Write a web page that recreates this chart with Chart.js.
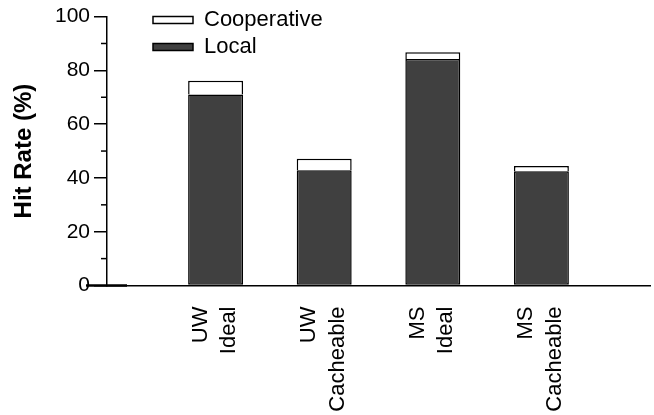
<!DOCTYPE html>
<html><head><meta charset="utf-8">
<script src="https://cdn.jsdelivr.net/npm/chart.js@4"></script>
<style>html,body{margin:0;padding:0;background:#fff;} #wrap{width:654px;height:415px;position:relative;}</style>
</head><body><div id="wrap"><canvas id="c"></canvas></div>
<script>
const categories = [["UW","Ideal"],["UW","Cacheable"],["MS","Ideal"],["MS","Cacheable"]];
const localValues = [71.0, 42.9, 84.2, 42.5];
const cooperativeValues = [5.1, 4.2, 2.5, 1.9];
const seriesNames = ["Local", "Cooperative"];
const yTicks = [0, 20, 40, 60, 80, 100];
const yMinorTicks = [10, 30, 50, 70, 90];
const yTitle = "Hit Rate (%)";

const FONT = "'Liberation Sans', Arial, Helvetica, sans-serif";
Chart.defaults.font.family = FONT;
Chart.defaults.color = '#000';

const labels = [""].concat(categories, [""]);
const pad = arr => [null].concat(arr, [null]);

const decor = {
  id: 'decor',
  afterLayout(chart) {
    const lg = chart.legend;
    if (lg) {
      const w = lg.width;
      lg.left = 148; lg.right = 148 + w + 40;
      lg.top = 4; lg.bottom = chart.chartArea.bottom;
    }
  },
  afterDraw(chart) {
    const ctx = chart.ctx, xs = chart.scales.x, ys = chart.scales.y;
    ctx.save();
    ctx.strokeStyle = '#000';
    ctx.lineWidth = 1.5;
    const x0 = chart.chartArea.left;
    yMinorTicks.forEach(v => {
      const py = ys.getPixelForValue(v);
      ctx.beginPath(); ctx.moveTo(x0 - 6, py); ctx.lineTo(x0, py); ctx.stroke();
    });
    const base = ys.getPixelForValue(0);
    const p0 = xs.getPixelForValue(0);
    ctx.lineWidth = 2.5;
    ctx.beginPath(); ctx.moveTo(p0 - 21, base); ctx.lineTo(p0 + 20, base); ctx.stroke();
    ctx.restore();
  }
};

new Chart(document.getElementById('c'), {
  type: 'bar',
  data: {
    labels: labels,
    datasets: [
      { label: seriesNames[0], data: pad(localValues), backgroundColor: '#404040', borderColor: '#000', borderWidth: 1.5, borderSkipped: false },
      { label: seriesNames[1], data: pad(cooperativeValues), backgroundColor: '#fff', borderColor: '#000', borderWidth: 1.5, borderSkipped: 'start' }
    ]
  },
  options: {
    responsive: true,
    maintainAspectRatio: false,
    animation: false,
    datasets: { bar: { categoryPercentage: 1.0, barPercentage: 0.506 } },
    layout: { padding: { top: 14, right: 4, left: 0, bottom: 0 } },
    plugins: {
      legend: {
        position: 'chartArea',
        align: 'start',
        reverse: true,
        labels: { boxWidth: 40, boxHeight: 7, padding: 5, font: { size: 22, family: FONT }, color: '#000' }
      },
      tooltip: { enabled: false }
    },
    scales: {
      x: {
        type: 'category',
        stacked: true,
        offset: false,
        grid: { display: false },
        border: { display: true, color: '#000', width: 1.5 },
        ticks: { autoSkip: false, maxRotation: 90, minRotation: 90, padding: 13, labelOffset: -15, font: { size: 22, family: FONT, lineHeight: 1.3 }, color: '#000' },
        afterFit: s => { s.height = 129.5; s.paddingLeft = 0; s.paddingRight = 0; }
      },
      y: {
        stacked: true,
        min: 0, max: 100,
        grid: { drawOnChartArea: false, drawTicks: true, tickLength: 13, color: '#000', lineWidth: 1.5 },
        border: { display: true, color: '#000', width: 1.5 },
        ticks: {
          stepSize: 20, padding: 4, font: { size: 21, family: FONT }, color: '#000',
          callback: v => (yTicks.includes(v) ? String(v) : '')
        },
        title: { display: true, text: yTitle, font: { size: 24, weight: 'bold', family: FONT }, color: '#000', padding: { top: 10, bottom: 0 } },
        afterFit: s => { s.width = 107; }
      }
    }
  },
  plugins: [decor]
});
</script>
</body></html>
